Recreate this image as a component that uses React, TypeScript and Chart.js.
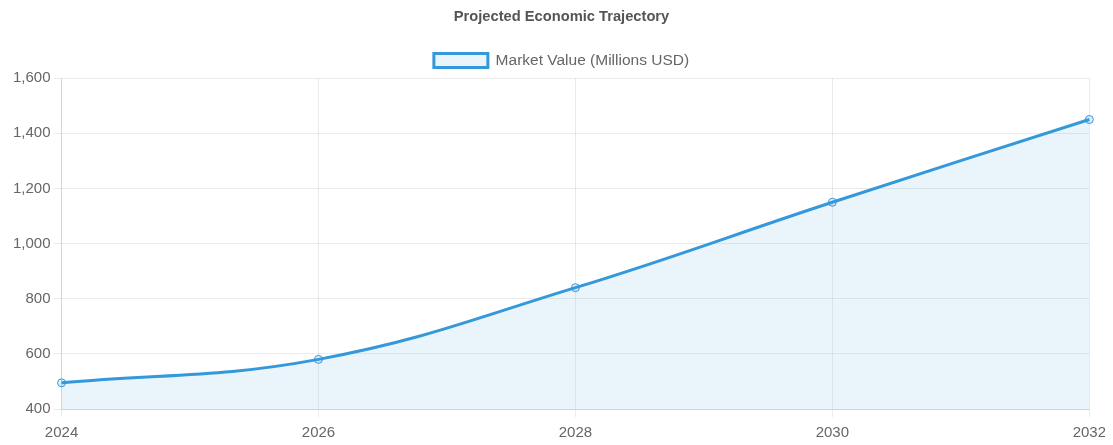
import React, { useEffect, useRef } from "react";
import { Chart, registerables } from "chart.js";

Chart.register(...registerables);

const years = ["2024", "2026", "2028", "2030", "2032"];
const marketValues = [495, 580, 840, 1150, 1450];
const seriesLabel = "Market Value (Millions USD)";
const chartTitle = "Projected Economic Trajectory";

export default function App() {
  const ref = useRef<HTMLCanvasElement | null>(null);
  useEffect(() => {
    if (!ref.current) return;
    document.documentElement.style.overflow = "hidden";
    Chart.defaults.font.family = "'Liberation Sans', Arial, Helvetica, sans-serif";
    Chart.defaults.color = "#666";
    const chart = new Chart(ref.current, {
      type: "line",
      data: {
        labels: years,
        datasets: [
          {
            label: seriesLabel,
            data: marketValues,
            borderColor: "#3498db",
            backgroundColor: "rgba(52,152,219,0.1)",
            borderWidth: 3,
            fill: "origin",
            tension: 0.4,
            pointRadius: 4,
            pointBorderWidth: 1,
            pointBackgroundColor: "rgba(52,152,219,0.15)",
            pointBorderColor: "#3498db",
          },
        ],
      },
      options: {
        animation: false,
        responsive: true,
        maintainAspectRatio: false,
        layout: { padding: { right: 0, bottom: 3, left: 2 } },
        plugins: {
          title: {
            display: true,
            text: chartTitle,
            font: { size: 14.7, weight: "bold" },
            color: "#555",
            padding: { top: 0, bottom: 13 },
          },
          legend: {
            labels: { font: { size: 15.5 }, boxWidth: 54, boxHeight: 14, padding: 14 },
          },
        },
        scales: {
          x: {
            offset: false,
            grid: { color: "rgba(0,0,0,0.08)" },
            ticks: { font: { size: 15 }, maxRotation: 0, padding: 7 },
          },
          y: {
            min: 400,
            max: 1600,
            ticks: { stepSize: 200, font: { size: 15 } },
            grid: { color: "rgba(0,0,0,0.08)" },
          },
        },
      },
    });
    return () => chart.destroy();
  }, []);
  return (
    <div style={{ height: 444, width: 1105 }}>
      <canvas ref={ref} />
    </div>
  );
}
